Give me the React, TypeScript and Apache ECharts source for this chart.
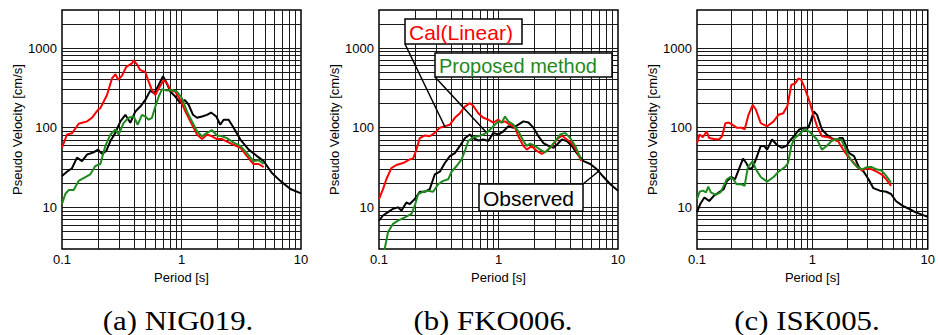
import React, { useEffect, useRef } from 'react';
import * as echarts from 'echarts';

// ---------- tick labels & grid values ----------
const xTickLabels = [0.1, 1, 10];
const yTickLabels = [10, 100, 1000];
const xGridValues = [0.2, 0.3, 0.4, 0.5, 0.6, 0.7, 0.8, 0.9, 1, 2, 3, 4, 5, 6, 7, 8, 9];
const yGridValues = [4, 5, 6, 7, 8, 9, 10, 20, 30, 40, 50, 60, 70, 80, 90, 100, 200, 300, 400, 500, 600, 700, 800, 900, 1000, 2000];
const captions = ['(a) NIG019.', '(b) FKO006.', '(c) ISK005.'];
const seriesNames = ['Observed', 'Cal(Linear)', 'Proposed method'];

// ---------- (a) NIG019 : [period s, pseudo velocity cm/s] ----------
const nig019Obs = [[0.1,24.8],[0.110,28],[0.1212,31],[0.1335,42],[0.147,38],[0.162,46],[0.184,49],[0.2,53],[0.216,47],[0.235,51],[0.254,68],[0.2795,86],[0.308,120],[0.339,145],[0.373,115],[0.411,160],[0.452,184],[0.498,223],[0.548,292],[0.593,270],[0.644,343],[0.700,444],[0.742,378],[0.807,283],[0.888,246],[0.978,203],[1.063,223],[1.148,194],[1.248,145],[1.348,133],[1.485,138],[1.635,145],[1.766,155],[1.955,138],[2.11,109],[2.25,126],[2.48,126],[2.73,100],[3.11,71],[3.65,53],[4.28,44],[4.87,38],[5.71,27],[6.71,21.5],[8.15,17],[10,15]];
const nig019Cal = [[0.1,56],[0.110,82],[0.121,85],[0.138,112],[0.162,120],[0.178,133],[0.2,168],[0.209,175],[0.238,257],[0.262,415],[0.28,470],[0.295,400],[0.318,450],[0.345,580],[0.385,640],[0.398,700],[0.424,625],[0.452,527],[0.498,500],[0.531,378],[0.566,297],[0.604,257],[0.644,310],[0.709,395],[0.757,360],[0.807,297],[0.888,283],[0.978,223],[1.076,160],[1.186,120],[1.348,82],[1.485,72],[1.635,82],[1.80,78],[1.98,72],[2.18,72],[2.40,67],[2.73,61],[3.11,56],[3.53,44],[4.0,35],[4.42,35],[4.87,32]];
const nig019Prop = [[0.1,11],[0.1066,14.7],[0.1137,16.5],[0.1252,16.5],[0.1379,21.5],[0.1568,24],[0.1726,26],[0.190,33],[0.2094,35],[0.2305,59],[0.254,82],[0.2795,95],[0.298,82],[0.328,115],[0.361,133],[0.398,138],[0.430,109],[0.467,145],[0.498,138],[0.531,126],[0.566,133],[0.604,184],[0.644,245],[0.687,303],[0.757,292],[0.833,297],[0.917,283],[1.009,234],[1.111,160],[1.224,120],[1.348,90],[1.485,78],[1.635,86],[1.80,93],[1.98,80],[2.18,78],[2.40,74],[2.73,65],[3.11,59],[3.53,48],[4.0,38],[4.42,39],[4.87,35]];

// ---------- (b) FKO006 ----------
const fko006Obs = [[0.1,6.8],[0.108,7.9],[0.119,8.7],[0.131,9.6],[0.1443,10],[0.154,9.1],[0.1696,11.5],[0.181,11],[0.1992,12.7],[0.2194,15.7],[0.2416,15.7],[0.266,16.9],[0.2932,26],[0.323,28],[0.3556,36],[0.3917,44],[0.4315,48],[0.4753,59],[0.5236,74],[0.5767,82],[0.615,74],[0.677,69],[0.746,71],[0.822,68],[0.905,86],[0.997,82],[1.098,90],[1.21,104],[1.332,100],[1.467,109],[1.616,120],[1.78,116],[1.96,100],[2.16,78],[2.378,64],[2.619,59],[2.885,56],[3.077,61],[3.389,71],[3.733,68],[4.11,59],[4.514,48],[5.15,38],[5.86,35],[6.66,30],[7.58,24],[8.62,19.5],[10,16.2]];
const fko006Cal = [[0.1,12.7],[0.108,16.9],[0.1152,22.5],[0.1269,31],[0.1398,34],[0.159,36],[0.181,40],[0.193,41],[0.2057,53],[0.2194,74],[0.2416,80],[0.266,78],[0.2932,86],[0.323,100],[0.3556,104],[0.3917,109],[0.4315,133],[0.4753,152],[0.5236,184],[0.5767,203],[0.615,188],[0.677,152],[0.746,133],[0.822,126],[0.905,116],[0.997,126],[1.063,116],[1.134,120],[1.249,109],[1.376,100],[1.467,78],[1.616,59],[1.724,53],[1.898,59],[2.091,51],[2.30,47],[2.536,51],[2.794,59],[3.077,71],[3.389,80],[3.733,71],[4.11,64],[4.514,51],[4.92,38]];
const fko006Prop = [[0.106,2.2],[0.1116,3.0],[0.119,4.9],[0.131,6.2],[0.1443,6.8],[0.1643,7.5],[0.187,8.3],[0.1992,10.5],[0.2125,14.7],[0.234,15.7],[0.2578,16.2],[0.284,15.7],[0.3127,19.5],[0.3444,21.5],[0.3793,22.5],[0.4045,28],[0.4456,33],[0.4909,40],[0.5236,51],[0.5584,68],[0.615,76],[0.677,78],[0.746,82],[0.822,90],[0.905,104],[0.997,120],[1.063,116],[1.134,138],[1.21,120],[1.332,109],[1.467,90],[1.616,68],[1.724,59],[1.838,63],[2.025,59],[2.23,53],[2.456,49],[2.705,56],[2.979,68],[3.28,82],[3.614,86],[3.98,74],[4.385,59],[4.92,40]];

// ---------- (c) ISK005 ----------
const isk005Obs = [[0.1,8.7],[0.1066,11],[0.1159,13.3],[0.1276,12],[0.1405,14],[0.1548,15.4],[0.1704,16.9],[0.1817,21.5],[0.2,24],[0.2134,22.5],[0.2305,30],[0.2505,41],[0.2672,36],[0.285,30],[0.3039,32],[0.324,40],[0.3567,59],[0.3804,59],[0.4056,53],[0.4466,71],[0.4918,61],[0.5415,56],[0.5963,59],[0.636,68],[0.7003,80],[0.7709,95],[0.849,100],[0.923,100],[0.965,120],[1.029,160],[1.098,145],[1.209,95],[1.331,82],[1.466,74],[1.614,69],[1.721,74],[1.835,74],[1.956,59],[2.086,48],[2.297,44],[2.53,32],[2.786,28],[3.067,22.5],[3.378,17.4],[3.842,16.2],[4.368,15.7],[4.809,14.7],[5.295,12],[6.02,10.5],[6.846,9.6],[7.784,8.7],[10,7.6]];
const isk005Cal = [[0.1,64],[0.1053,82],[0.1123,76],[0.1212,90],[0.1276,74],[0.1405,72],[0.1548,71],[0.165,78],[0.176,114],[0.1877,116],[0.2027,109],[0.2203,100],[0.2426,100],[0.2587,95],[0.2795,145],[0.3039,193],[0.324,168],[0.3567,114],[0.4056,104],[0.4612,120],[0.5078,145],[0.5592,152],[0.6079,188],[0.6567,343],[0.7094,360],[0.7565,415],[0.796,403],[0.849,327],[0.935,223],[1.029,138],[1.098,104],[1.209,78],[1.374,76],[1.513,71],[1.667,68],[1.835,54],[2.02,44],[2.225,38],[2.45,32],[2.698,29],[2.97,31],[3.271,30],[3.603,28],[3.967,26],[4.368,22.5],[4.809,18.6]];
const isk005Prop = [[0.1,12.7],[0.1053,15.7],[0.1123,16.2],[0.1197,15.4],[0.1252,18.2],[0.1318,15.4],[0.145,14.3],[0.1598,15.4],[0.1704,18.6],[0.1817,22.5],[0.1938,24],[0.2067,22.5],[0.2203,19.5],[0.2426,19.5],[0.2587,18.6],[0.2759,32],[0.3039,38],[0.324,30],[0.3567,24],[0.4056,21],[0.4612,24],[0.5078,28],[0.5774,32],[0.6157,36],[0.6567,59],[0.7003,74],[0.7709,82],[0.849,95],[0.935,90],[0.997,82],[1.098,71],[1.209,53],[1.331,59],[1.466,68],[1.614,72],[1.777,71],[1.895,59],[2.02,46],[2.225,37],[2.45,32],[2.698,30],[2.97,32],[3.271,32],[3.603,30],[3.967,29],[4.368,24.8],[4.809,20.5]];

const panels = [
  { obs: nig019Obs, cal: nig019Cal, prop: nig019Prop },
  { obs: fko006Obs, cal: fko006Cal, prop: fko006Prop },
  { obs: isk005Obs, cal: isk005Cal, prop: isk005Prop },
];

const FONT = '"Liberation Sans", Arial, sans-serif';
const gridLefts = [62, 379, 697];
const captionCenters = [178, 493, 807];
const colors = { obs: '#000000', cal: '#ff0000', prop: '#1f8a1f' };

function isTick(v: number, list: number[]) {
  return list.some((t) => Math.abs(Math.log10(v) - Math.log10(t)) < 1e-6);
}

export default function App() {
  const ref = useRef<HTMLDivElement>(null);
  useEffect(() => {
    if (!ref.current) return;
    const chart = echarts.init(ref.current, undefined, { renderer: 'svg' });

    const grid = gridLefts.map((left) => ({
      left, top: 10, width: 239, height: 239,
      show: true, borderColor: '#000', borderWidth: 1.5, backgroundColor: 'transparent',
    }));

    const xAxis = gridLefts.map((_, i) => ({
      type: 'log', logBase: 10, min: 0.1, max: 10, gridIndex: i,
      axisLine: { show: false }, axisTick: { show: false }, splitLine: { show: false },
      axisLabel: {
        color: '#000', fontSize: 13, fontFamily: FONT, margin: 4,
        formatter: (v: number) => (isTick(v, xTickLabels) ? String(xTickLabels.find((t) => isTick(v, [t]))) : ''),
      },
      name: 'Period [s]', nameLocation: 'middle', nameGap: 19,
      nameTextStyle: { color: '#000', fontSize: 13, fontFamily: FONT },
    }));

    const yAxis = gridLefts.map((_, i) => ({
      type: 'log', logBase: 10, min: 3, max: 3000, gridIndex: i,
      axisLine: { show: false }, axisTick: { show: false }, splitLine: { show: false },
      axisLabel: {
        color: '#000', fontSize: 13, fontFamily: FONT, margin: 5,
        formatter: (v: number) => (isTick(v, yTickLabels) ? String(yTickLabels.find((t) => isTick(v, [t]))) : ''),
      },
      name: 'Pseudo Velocity [cm/s]', nameLocation: 'middle', nameGap: 37,
      nameTextStyle: { color: '#000', fontSize: 13, fontFamily: FONT },
    }));

    const series: any[] = [];
    panels.forEach((p, i) => {
      const gridLines = [
        ...xGridValues.map((v) => ({ xAxis: v })),
        ...yGridValues.map((v) => ({ yAxis: v })),
      ];
      series.push({
        type: 'line', name: seriesNames[0], xAxisIndex: i, yAxisIndex: i, data: p.obs,
        showSymbol: false, symbol: 'none', lineStyle: { color: colors.obs, width: 2 }, z: 3,
        markLine: {
          silent: true, symbol: ['none', 'none'], label: { show: false }, z: 1,
          lineStyle: { color: '#1a1a1a', width: 1, type: 'solid' },
          emphasis: { disabled: true },
          data: gridLines,
        },
      });
      series.push({
        type: 'line', name: seriesNames[1], xAxisIndex: i, yAxisIndex: i, data: p.cal,
        showSymbol: false, symbol: 'none', lineStyle: { color: colors.cal, width: 2 }, z: 4,
      });
      series.push({
        type: 'line', name: seriesNames[2], xAxisIndex: i, yAxisIndex: i, data: p.prop,
        showSymbol: false, symbol: 'none', lineStyle: { color: colors.prop, width: 2 }, z: 5,
      });
    });

    const labelBox = (x: number, y: number, w: number, h: number, text: string, color: string, size: number, tx: number) => ([
      { type: 'rect', shape: { x, y, width: w, height: h }, style: { fill: '#fff', stroke: '#000', lineWidth: 1.5 }, z: 100 },
      { type: 'text', x: tx, y: y + h / 2 + 0.5, style: { text, fill: color, fontSize: size, fontFamily: FONT, align: 'left', verticalAlign: 'middle' }, z: 101 },
    ]);

    const graphic: any[] = [
      { type: 'line', shape: { x1: 405, y1: 44, x2: 445, y2: 127 }, style: { stroke: '#000', lineWidth: 1.5 }, z: 99 },
      { type: 'line', shape: { x1: 435, y1: 77, x2: 486, y2: 132 }, style: { stroke: '#000', lineWidth: 1.5 }, z: 99 },
      { type: 'line', shape: { x1: 583, y1: 184, x2: 599, y2: 171 }, style: { stroke: '#000', lineWidth: 1.5 }, z: 99 },
      ...labelBox(405, 19, 117, 25, seriesNames[1], colors.cal, 21, 409),
      ...labelBox(435, 53, 177, 24, seriesNames[2], colors.prop, 20, 439),
      ...labelBox(479, 184, 104, 27, seriesNames[0], colors.obs, 21, 483),
      ...captions.map((c, i) => ({
        type: 'text', x: captionCenters[i], y: 320, scaleX: 1.1,
        style: { text: c, fill: '#000', fontSize: 28, fontFamily: '"Liberation Serif", "Times New Roman", serif', align: 'center', verticalAlign: 'middle' },
      })),
    ];

    chart.setOption({ animation: false, backgroundColor: '#fff', grid, xAxis, yAxis, series, graphic });
    return () => chart.dispose();
  }, []);
  return <div ref={ref} style={{ position: 'fixed', left: 0, top: 0, width: 938, height: 335 }} />;
}
